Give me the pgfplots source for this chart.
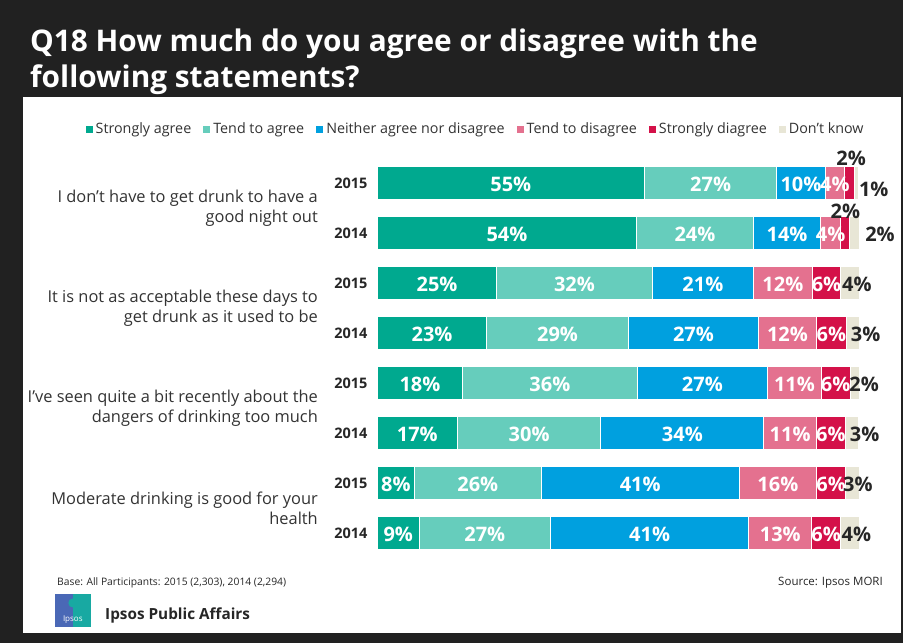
\documentclass[border=0pt]{standalone}
\usepackage{pgfplots}
\pgfplotsset{compat=1.18}
\usepackage{pgfplotstable}
\usepackage{fontspec}
\setmainfont{Open Sans}
\definecolor{bg}{HTML}{212121}
\definecolor{sagree}{HTML}{00A98F}
\definecolor{tagree}{HTML}{66CDBC}
\definecolor{neither}{HTML}{00A0DF}
\definecolor{tdis}{HTML}{E4718F}
\definecolor{sdis}{HTML}{D41149}
\definecolor{dknow}{HTML}{E8E6D6}
\definecolor{txt}{HTML}{262626}
\definecolor{lbl}{HTML}{333333}
\definecolor{logoblue}{HTML}{4A68B6}
\definecolor{logoteal}{HTML}{18A9A2}

% bar segment widths (percent), rows top to bottom
\pgfplotstableread{
row sa ta ne td sd dk
0 55.4 27.5 10.0 4.1 1.9 1.0
1 53.8 24.2 14.0 4.1 1.8 2.1
2 24.8 32.2 21.1 12.1 6.0 3.9
3 22.7 29.4 27.0 12.0 6.2 2.8
4 17.7 36.2 27.1 11.1 6.0 1.9
5 16.6 29.8 33.8 10.9 6.0 2.8
6 7.7 26.3 41.1 16.0 6.1 2.9
7 8.7 27.2 41.2 13.0 6.0 3.9
}\bars

% white value labels (segment centres)
\pgfplotstableread{
x y v
27.7 0 55
69.15 0 27
87.9 0 10
94.95 0 4
26.9 1 54
65.9 1 24
85.0 1 14
94.05 1 4
12.4 2 25
40.9 2 32
67.55 2 21
84.15 2 12
93.2 2 6
11.35 3 23
37.4 3 29
65.6 3 27
85.1 3 12
94.2 3 6
8.85 4 18
35.8 4 36
67.45 4 27
86.55 4 11
95.1 4 6
8.3 5 17
31.5 5 30
63.3 5 34
85.65 5 11
94.1 5 6
3.85 6 8
20.85 6 26
54.55 6 41
83.1 6 16
94.15 6 6
4.35 7 9
22.3 7 27
56.5 7 41
83.6 7 13
93.1 7 6
}\whitelabels

% dark value labels
\pgfplotstableread{
x y v
98.3 -0.534 2
103.0 0.086 1
97.1 0.54 2
104.3 0.986 2
99.5 2 4
101.3 3 3
101 4 2
101.1 5 3
99.7 6 3
99.4 7 4
}\darklabels

\begin{document}
\begin{tikzpicture}
\useasboundingbox (0,0) rectangle (903pt,643pt);
\fill[bg] (0,0) rectangle (903pt,643pt);
\fill[white] (23pt,10pt) rectangle (901pt,546pt);
\node[anchor=base west, text=white, font=\fontsize{29.8}{36}\selectfont\bfseries, align=left, inner sep=0pt] at (30pt,555pt) {Q18 How much do you agree or disagree with the\\following statements?};
\node[anchor=west, font=\fontsize{10.3}{12}\selectfont, text=txt, inner sep=0pt] at (57pt,60.3pt) {Base: All Participants: 2015 (2,303), 2014 (2,294)};
\node[anchor=east, font=\fontsize{11.5}{13}\selectfont, text=txt, inner sep=0pt] at (883pt,60.3pt) {Source: Ipsos MORI};
\fill[logoblue] (55pt,16.3pt) rectangle (90.7pt,49pt);
\fill[logoteal] (73pt,16.3pt) rectangle (90.7pt,49pt);
\fill[logoteal] (72.8pt,40pt) circle (4.5pt);
\node[text=white, font=\fontsize{8}{9}\selectfont, inner sep=0pt] at (72.8pt,23pt) {Ipsos};
\node[anchor=west, font=\fontsize{15.3}{18}\selectfont\bfseries, text=txt, inner sep=0pt] at (105pt,27.3pt) {Ipsos Public Affairs};

\begin{axis}[
  at={(377.3pt,84.8pt)}, anchor=south west,
  scale only axis, width=482pt, height=400pt,
  xmin=0, xmax=100, ymin=-0.5, ymax=7.5, y dir=reverse,
  xbar stacked, bar width=32.5pt,
  axis line style={draw=none}, xtick=\empty,
  ytick={0,...,7},
  yticklabels={2015,2014,2015,2014,2015,2014,2015,2014},
  major tick length=0pt,
  yticklabel style={font=\fontsize{14.5}{16}\selectfont\bfseries, text=txt, inner sep=0pt, anchor=east, xshift=-9.6pt},
  clip=false,
  legend columns=-1,
  legend image code/.code={\fill[#1,draw=none] (0pt,-3.5pt) rectangle (7pt,3.5pt);},
  legend style={at={(0.205,1.073)}, anchor=center, draw=none, fill=none,
    font=\fontsize{14.3}{16}\selectfont, text=lbl, column sep=0pt,
    /tikz/every even column/.append style={column sep=9pt},
    nodes={inner xsep=3pt}},
]
\addplot[fill=sagree, draw=white, line width=1pt] table[x=sa,y=row]{\bars};
\addplot[fill=tagree, draw=white, line width=1pt] table[x=ta,y=row]{\bars};
\addplot[fill=neither, draw=white, line width=1pt] table[x=ne,y=row]{\bars};
\addplot[fill=tdis, draw=white, line width=1pt] table[x=td,y=row]{\bars};
\addplot[fill=sdis, draw=white, line width=1pt] table[x=sd,y=row]{\bars};
\addplot[fill=dknow, draw=white, line width=1pt] table[x=dk,y=row]{\bars};
\legend{Strongly agree, Tend to agree, Neither agree nor disagree, Tend to disagree, Strongly diagree, Don't know}
\node[anchor=east, align=right, font=\fontsize{16.4}{19.5}\selectfont, text=lbl, inner sep=0pt] at (axis cs:-12.3,0.5) {I don't have to get drunk to have a\\good night out};
\node[anchor=east, align=right, font=\fontsize{16.4}{19.5}\selectfont, text=lbl, inner sep=0pt] at (axis cs:-12.3,2.5) {It is not as acceptable these days to\\get drunk as it used to be};
\node[anchor=east, align=right, font=\fontsize{16.4}{19.5}\selectfont, text=lbl, inner sep=0pt] at (axis cs:-12.3,4.5) {I've seen quite a bit recently about the\\dangers of drinking too much};
\node[anchor=east, align=right, font=\fontsize{16.4}{19.5}\selectfont, text=lbl, inner sep=0pt] at (axis cs:-12.3,6.5) {Moderate drinking is good for your\\health};
\end{axis}

\begin{axis}[
  at={(377.3pt,84.8pt)}, anchor=south west,
  scale only axis, width=482pt, height=400pt,
  xmin=0, xmax=100, ymin=-0.5, ymax=7.5, y dir=reverse,
  hide axis, clip=false,
]
\addplot[draw=none, mark=none, nodes near coords={\pgfplotspointmeta\%}, point meta=explicit symbolic,
  nodes near coords style={anchor=center, text=white, font=\fontsize{20}{22}\selectfont\bfseries, yshift=-1.5pt, inner sep=0pt}]
  table[x=x,y=y,meta=v]{\whitelabels};
\addplot[draw=none, mark=none, nodes near coords={\pgfplotspointmeta\%}, point meta=explicit symbolic,
  nodes near coords style={anchor=center, text=txt, font=\fontsize{20}{22}\selectfont\bfseries, yshift=-1.5pt, inner sep=0pt}]
  table[x=x,y=y,meta=v]{\darklabels};
\end{axis}
\end{tikzpicture}
\end{document}
